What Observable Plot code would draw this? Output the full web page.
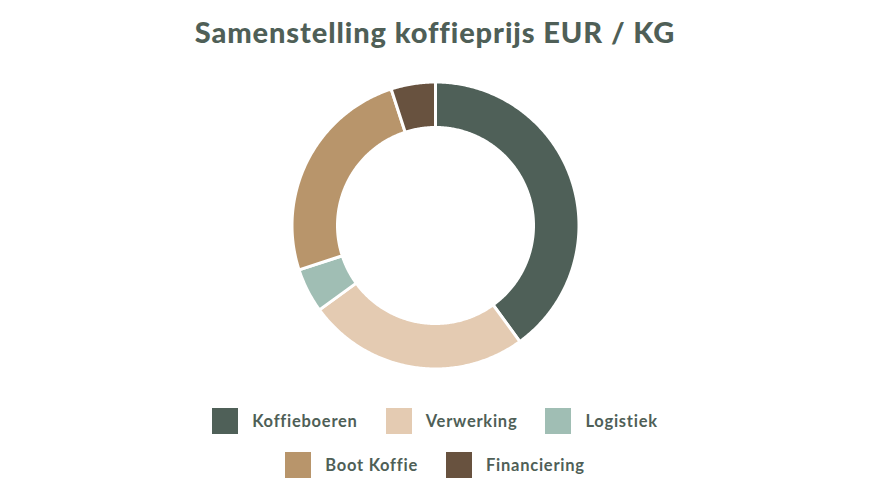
<!DOCTYPE html>
<html>
<head>
<meta charset="utf-8">
<script src="https://cdn.jsdelivr.net/npm/d3@7"></script>
<script src="https://cdn.jsdelivr.net/npm/@observablehq/plot@0.6"></script>
<style>
  html, body { margin: 0; padding: 0; background: #fff; }
  body { width: 870px; font-family: "Lato", "Open Sans", sans-serif; color: #4f5f57; font-variant-ligatures: none; }
  #title { margin: 0; height: 64px; line-height: 64px; text-align: center; font-size: 29px; font-weight: 900; color: #4f5f57; letter-spacing: 0.9px; }
  #chart svg { display: block; }
  #legend { margin: 22px auto 0 auto; width: 520px; display: flex; flex-wrap: wrap; justify-content: center; row-gap: 18px; column-gap: 28px; }
  .item { display: flex; align-items: center; height: 26px; font-size: 16.5px; font-weight: 700; letter-spacing: 0.75px; }
  .sw { width: 26px; height: 26px; margin-right: 14px; }
</style>
</head>
<body>
<div id="title">Samenstelling koffieprijs EUR / KG</div>
<div id="chart"></div>
<div id="legend"></div>
<script>
const categories = ["Koffieboeren", "Verwerking", "Logistiek", "Boot Koffie", "Financiering"];
const values = [40, 25, 5, 25, 5];
const colors = ["#4f6058", "#e4cbb2", "#a0beb4", "#b8956b", "#68523f"];

const outerR = 143.5, innerR = 98;
const pie = d3.pie().sort(null).value(d => d.value)(categories.map((c, i) => ({category: c, value: values[i]})));

function arcPolygon(a0, a1) {
  const n = Math.max(8, Math.ceil((a1 - a0) / 0.01));
  const outer = d3.range(n + 1).map(i => { const a = a0 + (a1 - a0) * i / n; return [outerR * Math.sin(a), outerR * Math.cos(a)]; });
  const inner = d3.range(n + 1).map(i => { const a = a1 - (a1 - a0) * i / n; return [innerR * Math.sin(a), innerR * Math.cos(a)]; });
  const ring = outer.concat(inner);
  ring.push(ring[0]);
  return ring;
}

const features = pie.map(p => ({
  type: "Feature",
  properties: {category: p.data.category, value: p.data.value},
  geometry: {type: "Polygon", coordinates: [arcPolygon(p.startAngle, p.endAngle)]}
}));

const W = 870, H = 322, half = 161;
const plot = Plot.plot({
  width: W,
  height: H,
  margin: 0,
  projection: ({width, height}) => d3.geoIdentity().reflectY(true)
    .fitSize([width, height], {type: "MultiPoint", coordinates: [[-half, -half], [half, half]]}),
  color: {domain: categories, range: colors},
  marks: [
    Plot.geo(features, {fill: d => d.properties.category, stroke: "white", strokeWidth: 3})
  ]
});
document.getElementById("chart").appendChild(plot);

const colorScale = plot.scale("color");
const legend = d3.select("#legend");
categories.forEach((c, i) => {
  const item = legend.append("div").attr("class", "item");
  item.append("div").attr("class", "sw").style("background", colorScale.range[i]);
  item.append("span").text(c);
});
</script>
</body>
</html>
